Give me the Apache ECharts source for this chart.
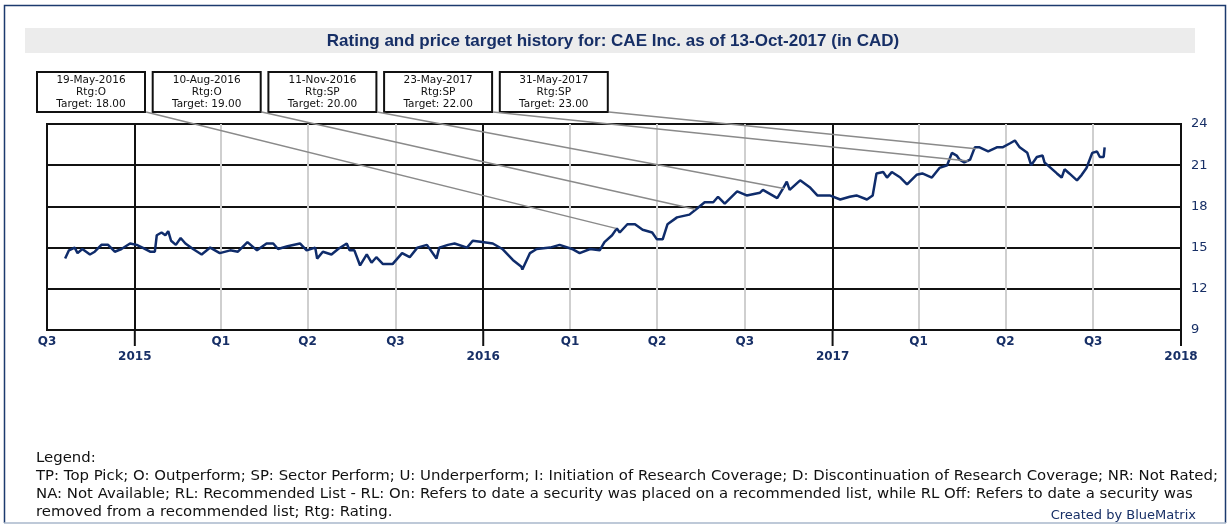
<!DOCTYPE html>
<html>
<head>
<meta charset="utf-8">
<script src="https://cdn.jsdelivr.net/npm/echarts@6/dist/echarts.min.js"></script>
<style>
  html, body { margin: 0; padding: 0; background: #fff; }
  #chart { width: 1230px; height: 525px; }
</style>
</head>
<body>
<div id="chart"></div>
<script>
// daily closes (CAD)
const priceDates = [
  '2014-10-20','2014-10-24','2014-10-30','2014-11-02','2014-11-07','2014-11-15','2014-11-20','2014-11-27',
  '2014-12-04','2014-12-11','2014-12-18','2014-12-27','2015-01-03','2015-01-09','2015-01-17','2015-01-22',
  '2015-01-24','2015-01-29','2015-02-02','2015-02-05','2015-02-08','2015-02-13','2015-02-18','2015-02-23',
  '2015-03-03','2015-03-12','2015-03-21','2015-03-31','2015-04-11','2015-04-19','2015-04-29','2015-05-09',
  '2015-05-19','2015-05-26','2015-05-31','2015-06-10','2015-06-23','2015-06-30','2015-07-09','2015-07-11',
  '2015-07-17','2015-07-26','2015-08-02','2015-08-11','2015-08-14','2015-08-19','2015-08-25','2015-09-01',
  '2015-09-06','2015-09-11','2015-09-18','2015-09-28','2015-10-08','2015-10-16','2015-10-24','2015-11-03',
  '2015-11-13','2015-11-16','2015-11-25','2015-12-02','2015-12-15','2015-12-21','2015-12-31','2016-01-11',
  '2016-01-21','2016-02-01','2016-02-10','2016-02-11','2016-02-19','2016-02-26','2016-03-11','2016-03-21',
  '2016-04-03','2016-04-11','2016-04-22','2016-05-02','2016-05-07','2016-05-15','2016-05-20','2016-05-23',
  '2016-05-31','2016-06-08','2016-06-16','2016-06-26','2016-07-01','2016-07-07','2016-07-12','2016-07-22',
  '2016-08-04','2016-08-13','2016-08-20','2016-08-29','2016-09-03','2016-09-10','2016-09-23','2016-10-03',
  '2016-10-17','2016-10-20','2016-11-04','2016-11-10','2016-11-14','2016-11-17','2016-11-28','2016-12-08',
  '2016-12-16','2016-12-29','2017-01-09','2017-01-19','2017-01-26','2017-02-06','2017-02-12','2017-02-16',
  '2017-02-23','2017-02-27','2017-03-04','2017-03-13','2017-03-20','2017-03-30','2017-04-05','2017-04-15',
  '2017-04-23','2017-05-01','2017-05-06','2017-05-11','2017-05-14','2017-05-19','2017-05-25','2017-05-30',
  '2017-06-04','2017-06-13','2017-06-22','2017-06-28','2017-07-06','2017-07-11','2017-07-16','2017-07-24',
  '2017-07-28','2017-08-03','2017-08-09','2017-08-11','2017-08-16','2017-08-24','2017-08-29','2017-09-01',
  '2017-09-06','2017-09-14','2017-09-19','2017-09-24','2017-09-30','2017-10-05','2017-10-08','2017-10-12',
  '2017-10-13'
];
const priceValues = [
  14.2, 14.8, 15.0, 14.6, 14.9, 14.5, 14.7, 15.2,
  15.2, 14.7, 14.9, 15.3, 15.2, 15.0, 14.7, 14.7,
  15.9, 16.1, 15.9, 16.2, 15.5, 15.2, 15.7, 15.3,
  14.9, 14.5, 15.0, 14.6, 14.8, 14.7, 15.4, 14.8,
  15.3, 15.3, 14.9, 15.1, 15.3, 14.8, 15.0, 14.2,
  14.7, 14.5, 14.9, 15.3, 14.8, 14.8, 13.7, 14.5,
  13.9, 14.3, 13.8, 13.8, 14.6, 14.3, 15.0, 15.2,
  14.2, 15.0, 15.2, 15.3, 15.0, 15.5, 15.4, 15.3,
  14.9, 14.1, 13.6, 13.4, 14.6, 14.9, 15.0, 15.2,
  14.9, 14.6, 14.9, 14.8, 15.4, 15.9, 16.4, 16.1,
  16.7, 16.7, 16.3, 16.1, 15.6, 15.6, 16.7, 17.2,
  17.4, 17.9, 18.3, 18.3, 18.7, 18.2, 19.1, 18.8,
  19.0, 19.2, 18.6, 19.3, 19.8, 19.2, 19.9, 19.4,
  18.8, 18.8, 18.5, 18.7, 18.8, 18.5, 18.8, 20.4,
  20.5, 20.1, 20.5, 20.1, 19.6, 20.3, 20.4, 20.1,
  20.8, 21.0, 21.9, 21.7, 21.4, 21.2, 21.4, 22.3,
  22.3, 22.0, 22.3, 22.3, 22.6, 22.8, 22.3, 21.9,
  21.0, 21.6, 21.7, 21.2, 20.9, 20.4, 20.1, 20.7,
  20.4, 19.9, 20.3, 20.8, 21.9, 22.0, 21.6, 21.6,
  22.3
];

// rating changes
const ratingDates = ['2016-05-19', '2016-08-10', '2016-11-11', '2017-05-23', '2017-05-31'];
const ratingDateLabels = ['19-May-2016', '10-Aug-2016', '11-Nov-2016', '23-May-2017', '31-May-2017'];
const ratingCodes = ['O', 'O', 'SP', 'SP', 'SP'];
const ratingTargets = ['18.00', '19.00', '20.00', '22.00', '23.00'];
const ratingPrices = [16.4, 17.8, 19.3, 21.3, 22.2];

// axis ticks
const quarterTicks = ['2014-10-01', '2015-04-01', '2015-07-01', '2015-10-01', '2016-04-01', '2016-07-01',
  '2016-10-01', '2017-04-01', '2017-07-01', '2017-10-01'];
const quarterNames = ['Q3', 'Q1', 'Q2', 'Q3', 'Q1', 'Q2', 'Q3', 'Q1', 'Q2', 'Q3'];
const yearTicks = ['2015-01-01', '2016-01-01', '2017-01-01', '2018-01-01'];
const yearNames = ['2015', '2016', '2017', '2018'];
const yTicks = [9, 12, 15, 18, 21, 24];

const legendLines = [
  'Legend:',
  'TP: Top Pick; O: Outperform; SP: Sector Perform; U: Underperform; I: Initiation of Research Coverage; D: Discontinuation of Research Coverage; NR: Not Rated;',
  'NA: Not Available; RL: Recommended List - RL: On: Refers to date a security was placed on a recommended list, while RL Off: Refers to date a security was',
  'removed from a recommended list; Rtg: Rating.'
];

const navy = '#172f66';

function ts(s) {
  const p = s.split('-');
  return Date.UTC(+p[0], +p[1] - 1, +p[2]);
}

const xMin = ts('2014-10-01'), xMax = ts('2018-01-01');

// quarter names on the first label line, years on the second
const xLabelLookup = {};
quarterTicks.forEach((d, i) => { xLabelLookup[ts(d)] = quarterNames[i]; });
yearTicks.forEach((d, i) => { xLabelLookup[ts(d)] = '\n' + yearNames[i]; });
const xLabelValues = quarterTicks.concat(yearTicks).map(ts).sort((a, b) => a - b);

const seriesData = priceDates.map((d, i) => [ts(d), priceValues[i]]);

// annotation boxes
const boxLeft = 37, boxStep = 115.7, boxW = 108, boxTop = 72, boxH = 40;
const graphics = [];
graphics.push({
  type: 'polyline', silent: true,
  shape: { points: [[4.5, 523], [4.5, 5.5], [1225.5, 5.5], [1225.5, 523]] },
  style: { stroke: '#1c3a6e', lineWidth: 1.5, fill: 'none' }
});
graphics.push({
  type: 'line', silent: true,
  shape: { x1: 4, y1: 523, x2: 1226, y2: 523 },
  style: { stroke: '#a8b7cb', lineWidth: 1.5 }
});
graphics.push({
  type: 'rect', silent: true, z: -1,
  shape: { x: 25, y: 28, width: 1170, height: 25 },
  style: { fill: '#ececec' }
});
graphics.push({
  type: 'text', silent: true,
  x: 613, y: 41,
  style: {
    text: 'Rating and price target history for: CAE Inc. as of 13-Oct-2017 (in CAD)',
    font: 'bold 17px "Liberation Sans", Arial, sans-serif',
    fill: navy, align: 'center', verticalAlign: 'middle'
  }
});
ratingDates.forEach((d, i) => {
  const x = boxLeft + i * boxStep;
  graphics.push({
    type: 'rect', silent: true,
    shape: { x: x, y: boxTop, width: boxW, height: boxH },
    style: { fill: '#fff', stroke: '#111', lineWidth: 2 }
  });
  graphics.push({
    type: 'text', silent: true,
    x: x + boxW / 2, y: boxTop + 2,
    style: {
      text: ratingDateLabels[i] + '\nRtg:' + ratingCodes[i] + '\nTarget: ' + ratingTargets[i],
      font: '10.5px "DejaVu Sans", sans-serif', lineHeight: 12,
      fill: '#111', align: 'center', verticalAlign: 'top'
    }
  });
});
legendLines.forEach((t, i) => {
  graphics.push({
    type: 'text', silent: true,
    x: 36, y: 458 + i * 18,
    style: { text: t, font: '14.9px "DejaVu Sans", sans-serif', fill: '#111', verticalAlign: 'middle' }
  });
});
graphics.push({
  type: 'text', silent: true,
  x: 1196, y: 516,
  style: { text: 'Created by BlueMatrix', font: '13px "DejaVu Sans", sans-serif', fill: navy, align: 'right', verticalAlign: 'middle' }
});

const connectorData = ratingDates.map((d, i) => [
  { x: boxLeft + i * boxStep + boxW + 1, y: boxTop + boxH },
  { coord: [ts(d), ratingPrices[i]] }
]);

const chart = echarts.init(document.getElementById('chart'));
chart.setOption({
  animation: false,
  backgroundColor: '#fff',
  grid: [{
    left: 47, right: 49, top: 124, bottom: 195,
    show: true, borderColor: '#111', borderWidth: 2, backgroundColor: 'transparent'
  }, {
    // thin strip under the plot for the year tick marks
    left: 47, right: 49, top: 330, height: 16, show: false
  }],
  xAxis: [{
    // years: black grid lines; quarter + year labels
    type: 'value',
    gridIndex: 0,
    position: 'bottom',
    min: xMin, max: xMax,
    axisLine: { show: true, lineStyle: { color: '#111', width: 2 } },
    axisTick: { show: false, customValues: yearTicks.map(ts) },
    splitLine: { show: true, lineStyle: { color: '#111', width: 2 } },
    axisLabel: {
      customValues: xLabelValues,
      formatter: v => xLabelLookup[v] || '',
      color: navy, fontSize: 12, fontWeight: 'bold', fontFamily: 'DejaVu Sans',
      lineHeight: 15, margin: 4
    }
  }, {
    // quarters: light grid lines only
    type: 'value',
    gridIndex: 0,
    position: 'top',
    min: xMin, max: xMax,
    axisLine: { show: false },
    axisTick: { show: false, customValues: quarterTicks.slice(1).map(ts) },
    axisLabel: { show: false },
    splitLine: { show: true, lineStyle: { color: '#cfcfcf', width: 2 } }
  }, {
    // strip axis for the year tick marks
    type: 'value',
    gridIndex: 1,
    min: xMin, max: xMax,
    axisLine: { show: false },
    axisTick: { show: false },
    axisLabel: { show: false },
    splitLine: { show: false }
  }],
  yAxis: [{
    type: 'value',
    gridIndex: 0,
    position: 'right',
    min: yTicks[0], max: yTicks[yTicks.length - 1], interval: 3,
    axisLine: { show: true, lineStyle: { color: '#111', width: 2 } },
    axisTick: { show: false },
    splitLine: { show: true, lineStyle: { color: '#111', width: 2 } },
    axisLabel: { color: navy, fontSize: 13, fontFamily: 'DejaVu Sans', margin: 10 }
  }, {
    type: 'value',
    gridIndex: 1,
    min: 0, max: 1,
    show: false
  }],
  graphic: graphics,
  series: [{
    type: 'line',
    xAxisIndex: 0,
    yAxisIndex: 0,
    data: seriesData,
    showSymbol: false,
    clip: false,
    lineStyle: { color: '#0f2c6b', width: 2.5 },
    z: 3,
    markLine: {
      silent: true,
      symbol: 'none',
      label: { show: false },
      lineStyle: { color: '#8a8a8a', width: 1.5, type: 'solid' },
      data: connectorData
    }
  }, {
    // year tick marks hanging below the axis
    type: 'bar',
    xAxisIndex: 2,
    yAxisIndex: 1,
    data: yearTicks.map(d => [ts(d), 1]),
    barWidth: 2,
    clip: false,
    silent: true,
    z: 10,
    itemStyle: { color: '#111' }
  }]
});
</script>
</body>
</html>
